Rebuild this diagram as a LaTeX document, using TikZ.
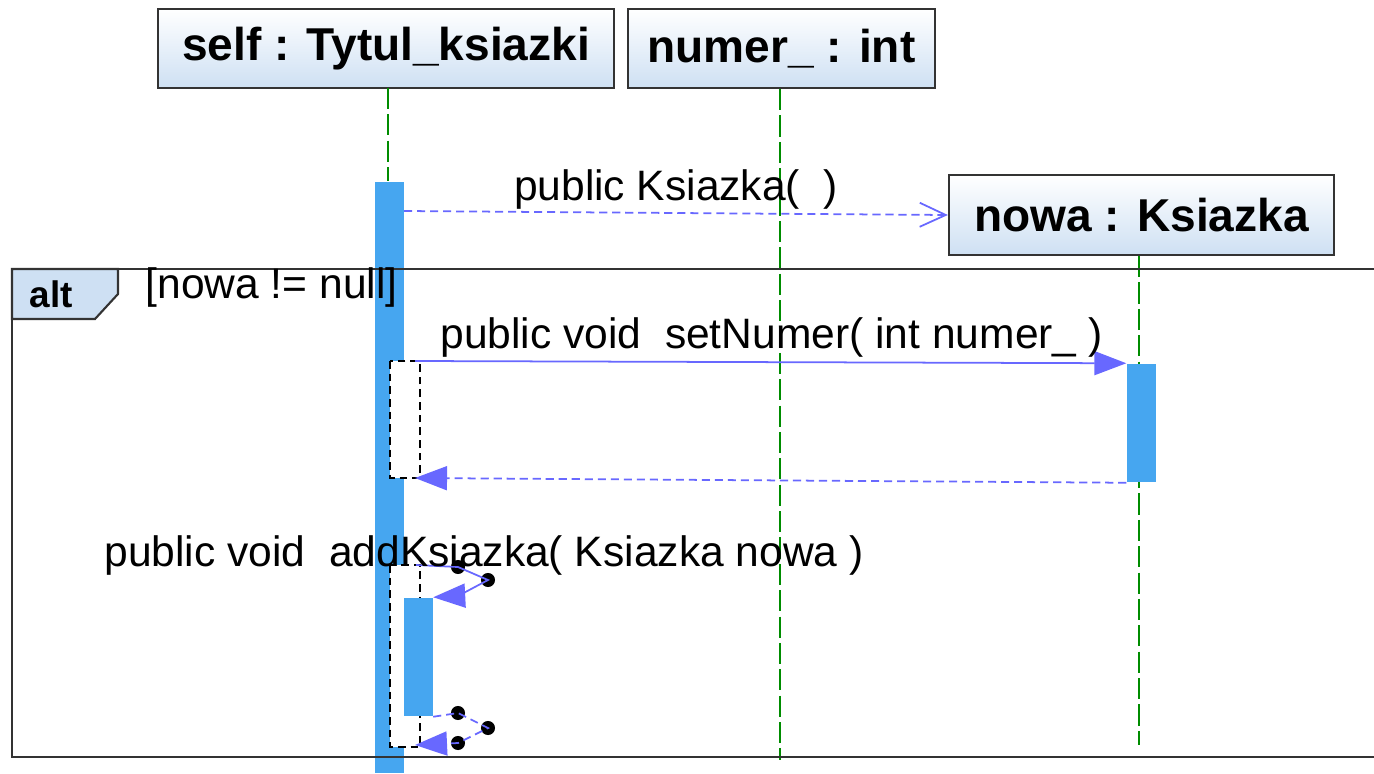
\documentclass[tikz,border=0pt]{standalone}
\usepackage{fontspec}
\setmainfont{Liberation Sans}
\usetikzlibrary{arrows.meta}

\definecolor{actblue}{RGB}{70,166,240}
\definecolor{msgblue}{RGB}{104,104,255}
\definecolor{lifegreen}{RGB}{0,140,0}
\definecolor{headblue}{RGB}{206,224,243}

\tikzset{
  obj/.style={draw=black!80, line width=0.6pt, top color=white, bottom color=headblue,
    inner sep=0pt, minimum height=7.9mm, font=\fontsize{13.1}{15}\selectfont\bfseries},
  life/.style={lifegreen, line width=0.55pt, dash pattern=on 6pt off 1.5pt},
  act/.style={fill=actblue, inner sep=0pt, minimum width=2.9mm},
  frag/.style={black, fill=white, line width=0.45pt, dash pattern=on 2.2pt off 1.4pt},
  call/.style={msgblue, line width=0.5pt, -{Triangle[length=3.2mm,width=2.4mm]}},
  ret/.style={msgblue, line width=0.5pt, dash pattern=on 2.3pt off 1.4pt,
    -{Triangle[length=3.2mm,width=2.4mm]}},
  create/.style={msgblue, line width=0.5pt, dash pattern=on 2.3pt off 1.4pt,
    -{Straight Barb[length=2.6mm,width=2.4mm]}},
  msg/.style={anchor=base, inner sep=0pt, font=\fontsize{12.1}{14}\selectfont},
  dot/.style={circle, fill=black, inner sep=0pt, minimum size=4pt}
}

\begin{document}
\begin{tikzpicture}[x=0.01cm, y=-0.01cm]
  \useasboundingbox (0,0) rectangle (1374,773);

  % obiekty
  \node[obj, minimum width=45.6mm] (self) at (386,48.5) {self : Tytul\_ksiazki};
  \node[obj, minimum width=30.7mm] (numer) at (781.5,48.5) {numer\_ : int};

  % paski aktywacji
  \node[act, minimum height=59.1mm] (selfbar) at (389.5,477.5) {};

  % linie zycia
  \coordinate (selftop) at (388,88);
  \draw[life] (selftop) -- (selftop |- selfbar.north);
  \coordinate (numerend) at (780,760);
  \draw[life] (numer.south -| numerend) -- (numerend);

  % tworzenie obiektu nowa
  \node[obj, minimum width=38.5mm, minimum height=8mm] (nowa) at (1141.5,215) {nowa : Ksiazka};
  \coordinate (nowaend) at (1139,745);
  \draw[life] (nowa.south -| nowaend) -- (nowaend);
  \coordinate (c0) at (404,211);
  \draw[create] (c0) -- (nowa.west);
  \node[msg] (m0) at (676,200) {public Ksiazka(\ \ )};

  % fragment alt
  \draw[line width=0.6pt, black!80] (1374,269) -- (12,269) -- (12,757) -- (1374,757);
  \draw[line width=0.6pt, black!80, fill=headblue]
    (12,269) -- (118,269) -- (118,294) -- (95,319) -- (12,319) -- cycle;
  \node[msg, font=\fontsize{10.5}{12}\selectfont\bfseries] (alt) at (51.5,307) {alt};
  \node[msg] (guard) at (271.5,298) {[nowa != null]};

  % wywolanie setNumer
  \node[act, minimum height=11.8mm] (nowabar) at (1141.5,423) {};
  \draw[frag] (390,361) rectangle (420,478);
  \coordinate (c1) at (415,361);
  \coordinate (c2) at (415,478);
  \draw[call] (c1) -- (nowabar.north west);
  \draw[ret] (nowabar.south west) -- (c2);
  \node[msg] (m1) at (771.5,348) {public void\ \ setNumer( int numer\_ )};

  % wywolanie addKsiazka
  \draw[frag] (390,565) rectangle (420,747);
  \node[act, minimum height=11.8mm] (addbar) at (418,657) {};
  \node[dot] (d1) at (458,567) {};
  \node[dot] (d2) at (488,580) {};
  \node[dot] (d3) at (458,596) {};
  \node[dot] (r1) at (458,713) {};
  \node[dot] (r2) at (488,728) {};
  \node[dot] (r3) at (458,743) {};
  \coordinate (c3) at (416,565);
  \coordinate (c4) at (415,745);
  \draw[call] (c3) -- (d1.center) -- (d2.center) -- (d3.center) -- (addbar.north east);
  \draw[ret] (addbar.south east) -- (r1.center) -- (r2.center) -- (r3.center) -- (c4);
  \node[msg] (m2) at (484,566) {public void\ \ addKsiazka( Ksiazka nowa )};
\end{tikzpicture}
\end{document}
